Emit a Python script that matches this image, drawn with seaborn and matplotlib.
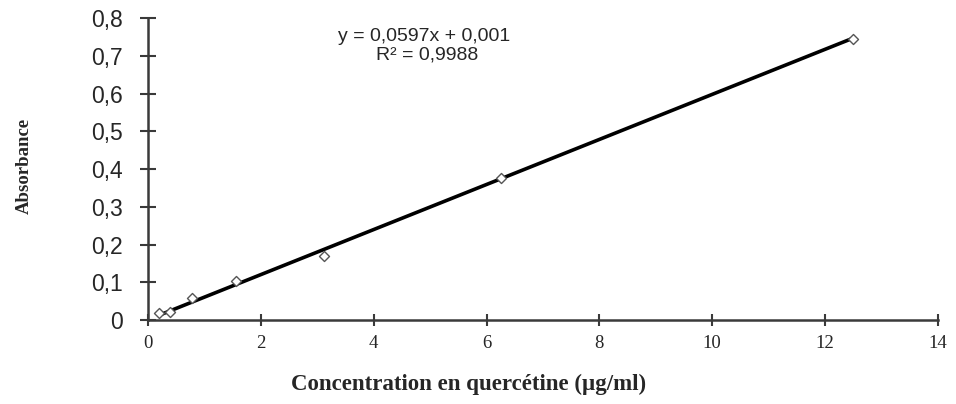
import matplotlib
matplotlib.use("Agg")
import matplotlib.pyplot as plt
import seaborn as sns
import pandas as pd
import numpy as np

# Quercetin calibration standards (µg/ml) and measured absorbance
concentration = [0.195, 0.39, 0.78, 1.5625, 3.125, 6.25, 12.5]
absorbance = [0.018, 0.020, 0.058, 0.102, 0.170, 0.376, 0.745]

# Linear trendline parameters
slope = 0.0597
intercept = 0.001
r_squared = 0.9988

x_ticks = [0, 2, 4, 6, 8, 10, 12, 14]
y_ticks = [0, 0.1, 0.2, 0.3, 0.4, 0.5, 0.6, 0.7, 0.8]

sns.set_style("white")
plt.rcParams["font.family"] = ["Liberation Sans", "DejaVu Sans"]
serif = ["Liberation Serif", "DejaVu Serif"]

fig = plt.figure(figsize=(9.56, 4.04), dpi=100)
ax = fig.add_axes([0.155, 0.208, 0.826, 0.747])

df = pd.DataFrame({"c": concentration, "a": absorbance})
fit_x = np.array([concentration[0], concentration[-1]])
fit = pd.DataFrame({"c": fit_x, "a": slope * fit_x + intercept})

sns.lineplot(data=fit, x="c", y="a", ax=ax, color="black", linewidth=2.6)
sns.scatterplot(data=df, x="c", y="a", ax=ax, marker="D", s=26,
                facecolor="white", edgecolor="#555555", linewidth=1.0, zorder=3)

ax.set_xlim(0, 14)
ax.set_ylim(0, 0.8)
ax.set_xticks(x_ticks)
ax.set_yticks(y_ticks)
ax.set_xticklabels([str(t) for t in x_ticks], fontsize=13.5, family=serif)
ax.set_yticklabels(["0" if t == 0 else f"{t:.1f}".replace(".", ",") for t in y_ticks],
                   fontsize=16.5)

for side in ["top", "right"]:
    ax.spines[side].set_visible(False)
for side in ["left", "bottom"]:
    ax.spines[side].set_color("#3a3a3a")
    ax.spines[side].set_linewidth(1.8)
ax.tick_params(axis="x", direction="inout", length=9, width=1.5, color="#3a3a3a",
               bottom=True, pad=6)
ax.tick_params(axis="y", direction="inout", length=12, width=1.5, color="#3a3a3a",
               left=True, pad=12)

ax.set_xlabel("")
ax.set_ylabel("")
ax.text(0.406, -0.215, "Concentration en quercétine (µg/ml)", transform=ax.transAxes,
        ha="center", va="center", fontsize=16.5, fontweight="bold", family=serif)
ax.text(-0.157, 0.51, "Absorbance", transform=ax.transAxes, rotation=90,
        ha="center", va="center", fontsize=13.5, fontweight="bold", family=serif)

ax.text(0.349, 0.94, f"y = {slope:.4f}x + {intercept:.3f}".replace(".", ","),
        transform=ax.transAxes, ha="center", va="center", fontsize=14)
ax.text(0.353, 0.877, f"R² = {r_squared:.4f}".replace(".", ","),
        transform=ax.transAxes, ha="center", va="center", fontsize=14)

fig.savefig("out.png", dpi=100)
